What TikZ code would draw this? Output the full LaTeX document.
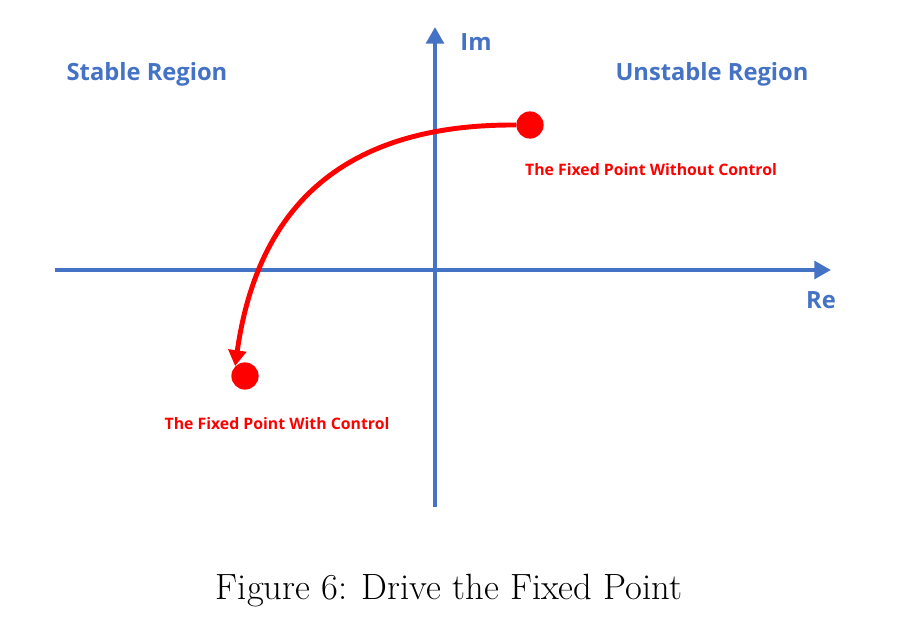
\documentclass[tikz,border=0pt]{standalone}
\usepackage{fontspec}
\usepackage{tikz}
\usetikzlibrary{arrows.meta}
\newfontfamily\regionfont{Open Sans}
\definecolor{axisblue}{HTML}{4472C4}
\definecolor{ptred}{HTML}{FF0000}

\begin{document}
\begin{tikzpicture}[x=0.02cm, y=-0.02cm,
    axis/.style={axisblue, line width=2.8pt, -{Triangle[length=9.5pt, width=10pt]}},
    region/.style={axisblue, font=\regionfont\bfseries\fontsize{13.5}{15}\selectfont},
    fixpt/.style={circle, fill=ptred, inner sep=0pt, minimum size=15.5pt},
    fixlabel/.style={ptred, font=\regionfont\bfseries\fontsize{9}{10}\selectfont}]
        \useasboundingbox (0, 0) rectangle (910, 618);
        \coordinate (xs) at (55, 270);
        \coordinate (xe) at (831, 270);
        \coordinate (ys) at (435, 507);
        \coordinate (ye) at (435, 27);
        \draw[axis] (xs) -- (xe);
        \draw[axis] (ys) -- (ye);
        \node[region] (im) at (476, 42) {Im};
        \node[region] (re) at (821, 300) {Re};
        \node[region] (stable) at (147, 74) {Stable Region};
        \node[region] (unstable) at (712, 74) {Unstable Region};
        \node[fixpt] (p0) at (530, 125) {};
        \node[fixpt] (p1) at (245, 376) {};
        \draw[ptred, line width=2.8pt, -{Triangle[length=9pt, width=10pt]}]
            (p0.west) .. controls (345, 124) and (258, 205) .. (p1.north west);
        \node[fixlabel] (l0) at (651, 170) {The Fixed Point Without Control};
        \node[fixlabel] (l1) at (277, 424) {The Fixed Point With Control};
        \node[font=\fontsize{20.8}{24}\selectfont] (cap) at (449, 591) {Figure 6: Drive the Fixed Point};
    \end{tikzpicture}
\end{document}
